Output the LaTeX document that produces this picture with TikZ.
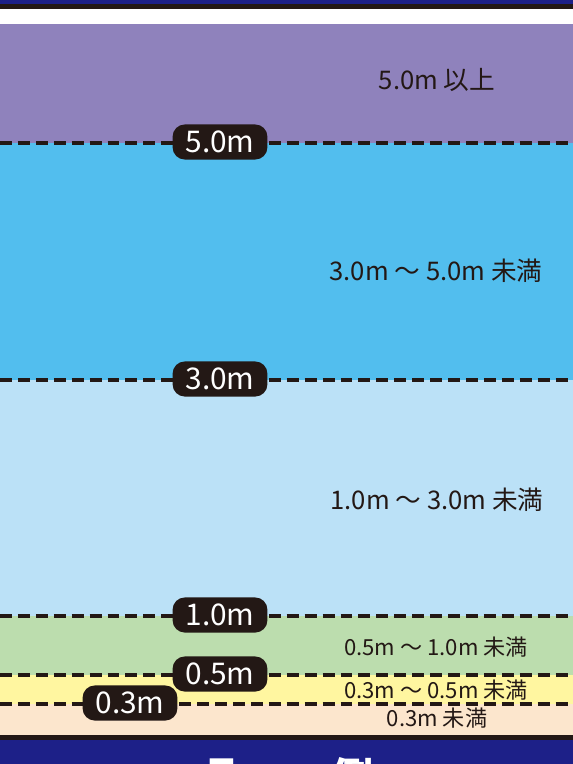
\documentclass[tikz,border=0pt]{standalone}
\usepackage{fontspec}
\setmainfont{Noto Sans CJK JP}
\usetikzlibrary{positioning}
\definecolor{navyband}{RGB}{29,32,136}
\definecolor{inkdark}{RGB}{35,24,21}
\definecolor{depthviolet}{RGB}{143,130,188}
\definecolor{depthsky}{RGB}{82,190,238}
\definecolor{depthpale}{RGB}{187,225,247}
\definecolor{depthgreen}{RGB}{188,221,174}
\definecolor{depthyellow}{RGB}{255,246,160}
\definecolor{depthpeach}{RGB}{252,230,205}

\begin{document}
\begin{tikzpicture}[x=0.02cm,y=-0.02cm,
      badge/.style={rounded corners=7pt,fill=inkdark,text=white,inner sep=0pt,
                    minimum width=54pt,minimum height=20pt,
                    font=\fontsize{17}{17}\selectfont},
      rangetxt/.style={text=inkdark,inner sep=0pt,font=\fontsize{14.6}{14.6}\selectfont},
      rangesmall/.style={rangetxt,font=\fontsize{12.6}{12.6}\selectfont},
      levelline/.style={inkdark,line width=2pt,dash pattern=on 6.8pt off 3.4pt}]

    \useasboundingbox (0,0) rectangle (573,764);
    \clip (0,0) rectangle (573,764);

    % bands
    \fill[navyband] (0,0) rectangle (573,4);
    \fill[inkdark] (0,4) rectangle (573,9);
    \fill[white] (0,9) rectangle (573,24);
    \fill[depthviolet] (0,24) rectangle (573,143);
    \fill[depthsky] (0,143) rectangle (573,380);
    \fill[depthpale] (0,380) rectangle (573,616);
    \fill[depthgreen] (0,616) rectangle (573,675);
    \fill[depthyellow] (0,675) rectangle (573,704);
    \fill[depthpeach] (0,704) rectangle (573,735);
    \fill[inkdark] (0,735) rectangle (573,740);
    \fill[navyband] (0,740) rectangle (573,764);

    % level lines
    \foreach \name/\y in {five/143,three/380,one/616,half/675,third/704}{
      \coordinate (\name L) at (0,\y);
      \coordinate (\name R) at (573,\y);
      \draw[levelline] (\name L) -- (\name R);
    }

    % depth badges
    \node[badge] (b5) at (220,142) {5.0m};
    \node[badge] (b3) at (220,379) {3.0m};
    \node[badge] (b1) at (220,615) {1.0m};
    \node[badge] (b05) at (220,674) {0.5m};
    \node[badge] (b03) at (130,703) {0.3m};

    % ranges
    \node[rangetxt] (r5) at (437,80) {5.0m 以上};
    \node[rangetxt] (r3) at (436,271) {3.0m ～ 5.0m 未満};
    \node[rangetxt] (r1) at (437,500) {1.0m ～ 3.0m 未満};
    \node[rangesmall] (r05) at (436,647) {0.5m ～ 1.0m 未満};
    \node[rangesmall] (r03) at (436,690) {0.3m ～ 0.5m 未満};
    \node[rangesmall] (r0) at (437,718) {0.3m 未満};

    % legend title, cut by the page edge
    \node[text=white,font=\fontsize{24}{24}\bfseries\selectfont,anchor=north] (legend) at (288,751) {凡\hspace{50pt}例};
  \end{tikzpicture}
\end{document}
